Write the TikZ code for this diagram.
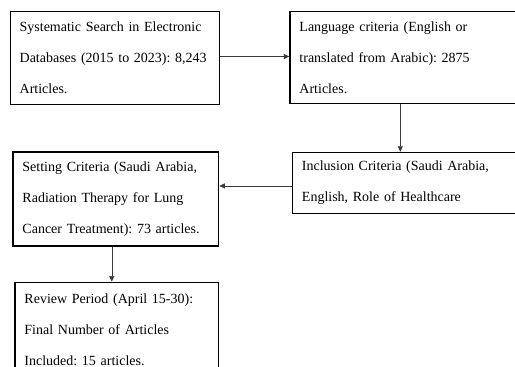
\documentclass[tikz,border=0pt]{standalone}
\usepackage{fontspec}
\setmainfont{Liberation Serif}
\usepackage{tikz}
\usetikzlibrary{arrows.meta, positioning}
\definecolor{LinkGrey}{HTML}{3A3A3A}
\frenchspacing

\begin{document}
\begin{tikzpicture}[
      x=1pt, y=-1pt,
      box/.style={draw=black, line width=1.3pt, inner xsep=9.5pt, inner ysep=0pt, align=left, anchor=north west,
        font=\fontsize{14}{31}\selectfont},
      link/.style={-{Triangle[length=5.5pt,width=5pt]}, line width=0.6pt, LinkGrey}
    ]
      \useasboundingbox (0,0) rectangle (515,367);
      \clip (0,0) rectangle (515,367);
      \node[box, text width=190.5pt, minimum height=93.3pt] (search) at (9.5,10.7)
        {Systematic Search in Electronic\\Databases (2015 to 2023): 8,243\\Articles.};
      \node[box, text width=300pt, minimum height=92.3pt, right=69pt of search.north east, anchor=north west] (lang)
        {Language criteria (English or\\translated from Arabic): 2875\\Articles.};
      \node[box, text width=300pt, minimum height=61pt, below=47.5pt of lang.south west, anchor=north west, xshift=2.5pt] (incl)
        {Inclusion Criteria (Saudi Arabia,\\English, Role of Healthcare};
      \node[box, text width=186.7pt, minimum height=94pt, below=46pt of search.south west, anchor=north west, xshift=2.8pt] (setting)
        {Setting Criteria (Saudi Arabia,\\Radiation Therapy for Lung\\Cancer Treatment): 73 articles.};
      \node[box, text width=184.7pt, minimum height=94pt, below=35pt of setting.south west, anchor=north west, xshift=2pt] (review)
        {Review Period (April 15-30):\\Final Number of Articles\\Included: 15 articles.};
      \coordinate (langout) at ([xshift=111pt]lang.south west);
      \draw[link] ([yshift=1.5pt]search.east) -- ([yshift=1.5pt]search.east -| lang.west);
      \draw[link] (langout) -- (langout |- incl.north);
      \draw[link] ([yshift=-3pt]incl.west) -- ([yshift=-3pt]incl.west -| setting.east);
      \draw[link] ([xshift=-4pt]setting.south) -- ([xshift=-4pt]setting.south |- review.north);
    \end{tikzpicture}
\end{document}
